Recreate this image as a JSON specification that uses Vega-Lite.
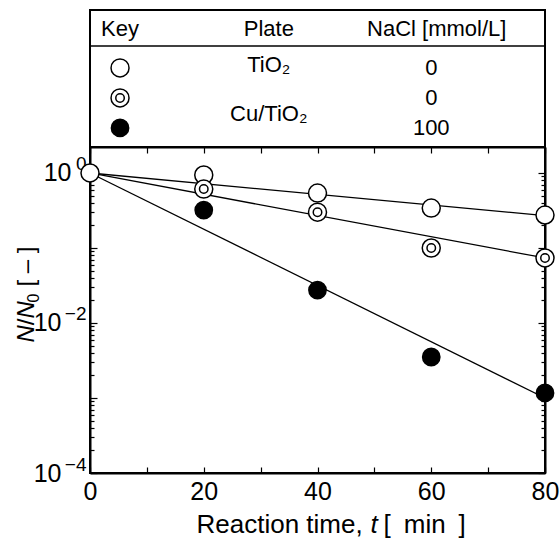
{
  "$schema": "https://vega.github.io/schema/vega-lite/v6.json",
  "padding": {"left": 13, "top": 9, "right": 0, "bottom": 0},
  "background": "white",
  "config": {
    "view": {"stroke": "black", "strokeWidth": 2},
    "font": "Liberation Sans",
    "axis": {"domainColor": "black", "domainWidth": 2, "tickColor": "black", "tickWidth": 1.2, "grid": false, "labelColor": "black", "titleColor": "black", "titleFontWeight": "normal", "labelFont": "Liberation Sans", "titleFont": "Liberation Sans", "labelFlush": false, "labelOverlap": false, "labelBound": false}
  },
  "datasets": {
    "points": [
      {"series": "open", "t": 0, "v": 1},
      {"series": "open", "t": 20, "v": 0.94},
      {"series": "open", "t": 40, "v": 0.54},
      {"series": "open", "t": 60, "v": 0.34},
      {"series": "open", "t": 80, "v": 0.275},
      {"series": "double", "t": 20, "v": 0.61},
      {"series": "double", "t": 40, "v": 0.30},
      {"series": "double", "t": 60, "v": 0.10},
      {"series": "double", "t": 80, "v": 0.0736},
      {"series": "filled", "t": 20, "v": 0.32},
      {"series": "filled", "t": 40, "v": 0.0275},
      {"series": "filled", "t": 60, "v": 0.00352},
      {"series": "filled", "t": 80, "v": 0.00117}
    ],
    "fits": [
      {"series": "open", "t": 0, "v": 1},
      {"series": "open", "t": 80, "v": 0.27},
      {"series": "double", "t": 0, "v": 1},
      {"series": "double", "t": 80, "v": 0.0736},
      {"series": "filled", "t": 0, "v": 1},
      {"series": "filled", "t": 80, "v": 0.001}
    ],
    "tableText": [
      {"x": 0.066, "y": 0.139, "label": "Key"},
      {"x": 0.393, "y": 0.139, "label": "Plate"},
      {"x": 0.762, "y": 0.139, "label": "NaCl [mmol/L]"},
      {"x": 0.393, "y": 0.40, "label": "TiO₂"},
      {"x": 0.75, "y": 0.423, "label": "0"},
      {"x": 0.75, "y": 0.642, "label": "0"},
      {"x": 0.393, "y": 0.76, "label": "Cu/TiO₂"},
      {"x": 0.75, "y": 0.861, "label": "100"}
    ],
    "tableSep": [{"y": 0.263}],
    "keys": [
      {"kind": "open", "x": 0.066, "y": 0.423},
      {"kind": "double", "x": 0.066, "y": 0.642},
      {"kind": "filled", "x": 0.066, "y": 0.861}
    ]
  },
  "spacing": 0,
  "bounds": "flush",
  "vconcat": [
    {
      "width": 455,
      "height": 137,
      "encoding": {
        "x": {"field": "x", "type": "quantitative", "scale": {"domain": [0, 1], "nice": false}, "axis": null},
        "y": {"field": "y", "type": "quantitative", "scale": {"domain": [0, 1], "nice": false, "reverse": true}, "axis": null}
      },
      "layer": [
        {
          "data": {"name": "tableSep"},
          "mark": {"type": "rule", "color": "black", "strokeWidth": 1.5},
          "encoding": {"y": {"field": "y", "type": "quantitative", "scale": {"domain": [0, 1], "nice": false, "reverse": true}, "axis": null}, "x": null}
        },
        {
          "data": {"name": "tableText"},
          "mark": {"type": "text", "fontSize": 22, "font": "Liberation Sans", "color": "black", "baseline": "middle", "align": "center"},
          "encoding": {"text": {"field": "label"}}
        },
        {
          "data": {"name": "keys"},
          "transform": [{"filter": "datum.kind !== 'filled'"}],
          "mark": {"type": "point", "shape": "circle", "filled": true, "fill": "white", "stroke": "black", "strokeWidth": 1.5, "size": 324, "opacity": 1}
        },
        {
          "data": {"name": "keys"},
          "transform": [{"filter": "datum.kind === 'double'"}],
          "mark": {"type": "point", "shape": "circle", "filled": true, "fill": "white", "stroke": "black", "strokeWidth": 1.5, "size": 72, "opacity": 1}
        },
        {
          "data": {"name": "keys"},
          "transform": [{"filter": "datum.kind === 'filled'"}],
          "mark": {"type": "point", "shape": "circle", "filled": true, "fill": "black", "stroke": "black", "strokeWidth": 1.5, "size": 300, "opacity": 1}
        }
      ]
    },
    {
      "width": 455,
      "height": 326,
      "layer": [
        {
          "encoding": {
            "x": {"field": "t", "type": "quantitative", "scale": {"domain": [0, 80], "nice": false},
              "axis": {"orient": "bottom", "values": [0, 10, 20, 30, 40, 50, 60, 70, 80], "labelExpr": "datum.value % 20 == 0 ? datum.label : ''", "tickSize": -6, "labelPadding": 12, "labelFontSize": 25, "title": "Reaction time,", "titleFontSize": 26, "titleX": 106, "titleY": 59, "titleBaseline": "alphabetic", "titleAlign": "left"}},
            "y": {"field": "v", "type": "quantitative", "scale": {"type": "log", "domain": [0.0001, 2.22], "nice": false},
              "axis": {"orient": "left",
                "values": [0.0001, 0.0002, 0.0003, 0.0004, 0.0005, 0.0006, 0.0007, 0.0008, 0.0009, 0.001, 0.002, 0.003, 0.004, 0.005, 0.006, 0.007, 0.008, 0.009, 0.01, 0.02, 0.03, 0.04, 0.05, 0.06, 0.07, 0.08, 0.09, 0.1, 0.2, 0.3, 0.4, 0.5, 0.6, 0.7, 0.8, 0.9, 1],
                "labels": false,
                "tickSize": {"condition": {"test": "datum.value == 1 || datum.value == 0.1 || datum.value == 0.01 || datum.value == 0.001 || datum.value == 0.0001", "value": -7}, "value": -4},
                "title": "N", "titleFontStyle": "italic", "titleFontSize": 24, "titleX": -57, "titleY": 195, "titleAngle": -90, "titleBaseline": "alphabetic", "titleAlign": "left"}}
          },
          "layer": [
            {
              "data": {"name": "fits"},
              "mark": {"type": "line", "color": "black", "strokeWidth": 1.3},
              "encoding": {"detail": {"field": "series"}}
            },
            {
              "data": {"name": "points"},
              "transform": [{"filter": "datum.series === 'open'"}],
              "mark": {"type": "point", "shape": "circle", "filled": true, "fill": "white", "stroke": "black", "strokeWidth": 1.5, "size": 324, "opacity": 1}
            },
            {
              "data": {"name": "points"},
              "transform": [{"filter": "datum.series === 'double'"}],
              "mark": {"type": "point", "shape": "circle", "filled": true, "fill": "white", "stroke": "black", "strokeWidth": 1.5, "size": 324, "opacity": 1}
            },
            {
              "data": {"name": "points"},
              "transform": [{"filter": "datum.series === 'double'"}],
              "mark": {"type": "point", "shape": "circle", "filled": true, "fill": "white", "stroke": "black", "strokeWidth": 1.5, "size": 72, "opacity": 1}
            },
            {
              "data": {"name": "points"},
              "transform": [{"filter": "datum.series === 'filled'"}],
              "mark": {"type": "point", "shape": "circle", "filled": true, "fill": "black", "stroke": "black", "strokeWidth": 1.5, "size": 300, "opacity": 1}
            }
          ]
        },
        {
          "data": {"name": "fits"},
          "mark": {"type": "point", "opacity": 0},
          "encoding": {
            "x": {"field": "t", "type": "quantitative", "scale": {"domain": [0, 80], "nice": false},
              "axis": {"orient": "top", "values": [0, 10, 20, 30, 40, 50, 60, 70, 80], "labels": false, "tickSize": -6, "title": null}},
            "y": {"field": "v", "type": "quantitative", "scale": {"type": "log", "domain": [0.0001, 2.22], "nice": false},
              "axis": {"orient": "right",
                "values": [0.0001, 0.0002, 0.0003, 0.0004, 0.0005, 0.0006, 0.0007, 0.0008, 0.0009, 0.001, 0.002, 0.003, 0.004, 0.005, 0.006, 0.007, 0.008, 0.009, 0.01, 0.02, 0.03, 0.04, 0.05, 0.06, 0.07, 0.08, 0.09, 0.1, 0.2, 0.3, 0.4, 0.5, 0.6, 0.7, 0.8, 0.9, 1],
                "labels": false,
                "tickSize": {"condition": {"test": "datum.value == 1 || datum.value == 0.1 || datum.value == 0.01 || datum.value == 0.001 || datum.value == 0.0001", "value": -7}, "value": -4},
                "title": null}}
          }
        },
        {
          "data": {"name": "fits"},
          "mark": {"type": "point", "opacity": 0},
          "encoding": {
            "x": {"field": "t", "type": "quantitative", "scale": {"domain": [0, 80], "nice": false}, "axis": null},
            "y": {"field": "v", "type": "quantitative", "scale": {"type": "log", "domain": [0.0001, 2.22], "nice": false},
              "axis": {"orient": "left", "values": [1, 0.01, 0.0001], "ticks": false, "domain": false,
                "labelExpr": "'10'", "labelAlign": "right", "labelBaseline": "middle",
                "labelPadding": {"condition": {"test": "datum.value == 1", "value": 19}, "value": 29},
                "labelFontSize": 25,
                "title": "/", "titleFontSize": 24, "titleX": -57, "titleY": 177.7, "titleAngle": -90, "titleBaseline": "alphabetic", "titleAlign": "left"}}
          }
        },
        {
          "data": {"name": "fits"},
          "mark": {"type": "point", "opacity": 0},
          "encoding": {
            "x": {"field": "t", "type": "quantitative", "scale": {"domain": [0, 80], "nice": false}, "axis": null},
            "y": {"field": "v", "type": "quantitative", "scale": {"type": "log", "domain": [0.0001, 2.22], "nice": false},
              "axis": {"orient": "left", "values": [1, 0.01, 0.0001], "ticks": false, "domain": false,
                "labelExpr": "datum.value == 1 ? '0' : datum.value == 0.01 ? '−2' : '−4'", "labelAlign": "right", "labelBaseline": "middle",
                "labelPadding": 4, "labelOffset": -9,
                "labelFontSize": 19,
                "title": "N", "titleFontStyle": "italic", "titleFontSize": 24, "titleX": -57, "titleY": 171, "titleAngle": -90, "titleBaseline": "alphabetic", "titleAlign": "left"}}
          }
        },
        {
          "data": {"name": "fits"},
          "mark": {"type": "point", "opacity": 0},
          "encoding": {
            "x": {"field": "t", "type": "quantitative", "scale": {"domain": [0, 80], "nice": false}, "axis": null},
            "y": {"field": "v", "type": "quantitative", "scale": {"type": "log", "domain": [0.0001, 2.22], "nice": false},
              "axis": {"orient": "left", "values": [1], "ticks": false, "domain": false, "labels": false,
                "title": "0", "titleFontSize": 16, "titleX": -52, "titleY": 155, "titleAngle": -90, "titleBaseline": "alphabetic", "titleAlign": "left"}}
          }
        },
        {
          "data": {"name": "fits"},
          "mark": {"type": "point", "opacity": 0},
          "encoding": {
            "x": {"field": "t", "type": "quantitative", "scale": {"domain": [0, 80], "nice": false}, "axis": null},
            "y": {"field": "v", "type": "quantitative", "scale": {"type": "log", "domain": [0.0001, 2.22], "nice": false},
              "axis": {"orient": "left", "values": [1], "ticks": false, "domain": false, "labels": false,
                "title": "[ – ]", "titleFontSize": 24, "titleX": -57, "titleY": 139, "titleAngle": -90, "titleBaseline": "alphabetic", "titleAlign": "left"}}
          }
        },
        {
          "data": {"name": "fits"},
          "mark": {"type": "point", "opacity": 0},
          "encoding": {
            "y": {"field": "v", "type": "quantitative", "scale": {"type": "log", "domain": [0.0001, 2.22], "nice": false}, "axis": null},
            "x": {"field": "t", "type": "quantitative", "scale": {"domain": [0, 80], "nice": false},
              "axis": {"orient": "bottom", "values": [0], "ticks": false, "domain": false, "labels": false,
                "title": "t", "titleFontStyle": "italic", "titleFontSize": 26, "titleX": 280, "titleY": 59, "titleBaseline": "alphabetic", "titleAlign": "left"}}
          }
        },
        {
          "data": {"name": "fits"},
          "mark": {"type": "point", "opacity": 0},
          "encoding": {
            "y": {"field": "v", "type": "quantitative", "scale": {"type": "log", "domain": [0.0001, 2.22], "nice": false}, "axis": null},
            "x": {"field": "t", "type": "quantitative", "scale": {"domain": [0, 80], "nice": false},
              "axis": {"orient": "bottom", "values": [0], "ticks": false, "domain": false, "labels": false,
                "title": "[\u2002min\u2002]", "titleFontSize": 26, "titleX": 293, "titleY": 59, "titleBaseline": "alphabetic", "titleAlign": "left"}}
          }
        }
      ],
      "resolve": {"axis": {"x": "independent", "y": "independent"}}
    }
  ]
}
